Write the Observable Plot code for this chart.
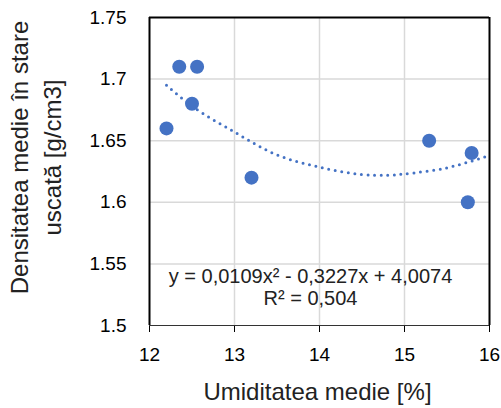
<!DOCTYPE html>
<html>
<head>
<meta charset="utf-8">
<script src="https://cdn.jsdelivr.net/npm/d3@7"></script>
<script src="https://cdn.jsdelivr.net/npm/@observablehq/plot@0.6"></script>
<style>
  html, body { margin: 0; padding: 0; background: #fff; }
</style>
</head>
<body>
<div id="chart"></div>
<script>
// Data
const humidity = [12.2, 12.35, 12.5, 12.56, 13.2, 15.29, 15.745, 15.79];
const density  = [1.66, 1.71, 1.68, 1.71, 1.62, 1.65, 1.60, 1.64];

// Polynomial (order 2) trend line
const trendX = [12.2, 12.5, 13, 13.5, 14, 14.5, 14.8, 15, 15.5, 16];
const trendY = [1.695, 1.678, 1.657, 1.6385, 1.6285, 1.6225, 1.622, 1.623, 1.628, 1.638];

const xTicks = [12, 13, 14, 15, 16];
const xTickLabels = ["12", "13", "14", "15", "16"];
const yTicks = [1.5, 1.55, 1.6, 1.65, 1.7, 1.75];
const yTickLabels = ["1.5", "1.55", "1.6", "1.65", "1.7", "1.75"];

const xTitle = "Umiditatea medie [%]";
const yTitle = "Densitatea medie în stare\nuscată [g/cm3]";
const equation = "y = 0,0109x² - 0,3227x + 4,0074\nR² = 0,504";

const points = humidity.map((x, i) => ({x, y: density[i]}));
const trend = trendX.map((x, i) => ({x, y: trendY[i]}));

const blue = "#4472C4";
const grid = "#d9d9d9";

const chart = Plot.plot({
  width: 501,
  height: 408,
  marginLeft: 149,
  marginRight: 12,
  marginTop: 17,
  marginBottom: 83,
  style: {fontFamily: "'Liberation Sans', Arial, sans-serif", color: "black", background: "white"},
  x: {domain: [12, 16]},
  y: {domain: [1.5, 1.75]},
  marks: [
    Plot.gridX(xTicks.slice(1, -1), {stroke: grid, strokeOpacity: 1, strokeWidth: 1.5}),
    Plot.gridY(yTicks.slice(1, -1), {stroke: grid, strokeOpacity: 1, strokeWidth: 1.5}),
    Plot.axisX({
      ticks: xTicks,
      tickFormat: (d) => xTickLabels[xTicks.indexOf(d)],
      tickSize: 7,
      tickPadding: 15,
      fontSize: 19,
      label: null
    }),
    Plot.axisY({
      ticks: yTicks,
      tickFormat: (d) => yTickLabels[yTicks.indexOf(d)],
      tickSize: 0,
      tickPadding: 23,
      fontSize: 19,
      label: null
    }),
    Plot.ruleY([yTicks[0]], {stroke: "#333", strokeWidth: 1}),
    Plot.ruleY([yTicks[yTicks.length - 1]], {stroke: "black", strokeWidth: 2}),
    Plot.ruleX([xTicks[0], xTicks[xTicks.length - 1]], {stroke: "black", strokeWidth: 2}),
    Plot.line(trend, {
      x: "x", y: "y",
      curve: "catmull-rom",
      stroke: blue,
      strokeWidth: 3,
      strokeDasharray: "0 6.6",
      strokeLinecap: "round"
    }),
    Plot.dot(points, {x: "x", y: "y", r: 7, fill: blue, stroke: "none"}),
    Plot.text([equation], {
      frameAnchor: "bottom",
      textAnchor: "middle",
      lineAnchor: "middle",
      dx: -9,
      dy: -39,
      fontSize: 20,
      lineHeight: 1.1,
      fill: "#222"
    }),
    Plot.text([xTitle], {
      frameAnchor: "bottom",
      textAnchor: "middle",
      lineAnchor: "middle",
      dx: -2,
      dy: 67,
      fontSize: 24,
      fill: "#222"
    }),
    Plot.text([yTitle], {
      frameAnchor: "left",
      textAnchor: "middle",
      lineAnchor: "middle",
      rotate: -90,
      dx: -116,
      dy: -14,
      fontSize: 24,
      lineHeight: 1.375,
      fill: "#222"
    })
  ]
});

document.getElementById("chart").appendChild(chart);
</script>
</body>
</html>
